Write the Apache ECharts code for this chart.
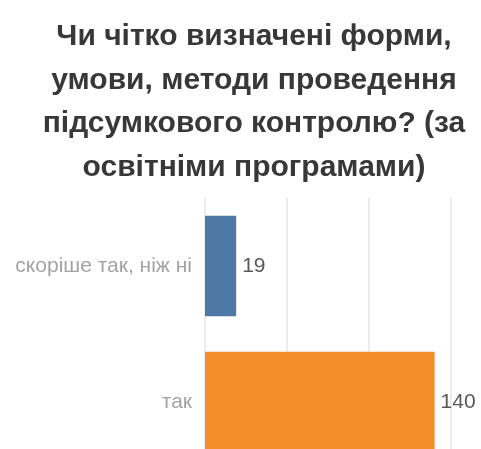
<!DOCTYPE html>
<html><head><meta charset="utf-8">
<script src="https://cdn.jsdelivr.net/npm/echarts@6/dist/echarts.min.js"></script>
<style>html,body{margin:0;padding:0;background:#fff;overflow:hidden}#c{width:481px;height:490px}</style>
</head><body><div id="c"></div>
<script>
var titleText = 'Чи чітко визначені форми,\nумови, методи проведення\nпідсумкового контролю? (за\nосвітніми програмами)';
var categories = ['скоріше так, ніж ні', 'так'];
var values = [19, 140];
var axisMax = 150;
var axisInterval = 50;
var barColors = ['#4e78a6', '#f28e2c'];

var chart = echarts.init(document.getElementById('c'), null, {renderer: 'canvas'});
chart.setOption({
  animation: false,
  title: {
    text: titleText,
    left: 249, top: 10, textAlign: 'center',
    textStyle: {fontFamily: 'Liberation Sans', fontWeight: 'bold', fontSize: 30, lineHeight: 43.5, color: '#383838', align: 'center'}
  },
  grid: {left: 205, right: 30, top: 198, height: 272},
  xAxis: {
    type: 'value', min: 0, max: axisMax, interval: axisInterval,
    axisLabel: {show: false}, axisLine: {show: false}, axisTick: {show: false},
    splitLine: {lineStyle: {color: '#ececec', width: 2}}
  },
  yAxis: {
    type: 'category', data: categories, inverse: true,
    axisLine: {show: false}, axisTick: {show: false},
    axisLabel: {fontFamily: 'Liberation Sans', fontSize: 21, color: '#a3a3a3', margin: 13}
  },
  series: [{
    type: 'bar', barCategoryGap: '26%',
    data: values.map(function (v, i) { return {value: v, itemStyle: {color: barColors[i]}}; }),
    label: {show: true, position: 'right', distance: 6, fontFamily: 'Liberation Sans', fontSize: 21, color: '#595959'}
  }]
});
</script></body></html>
